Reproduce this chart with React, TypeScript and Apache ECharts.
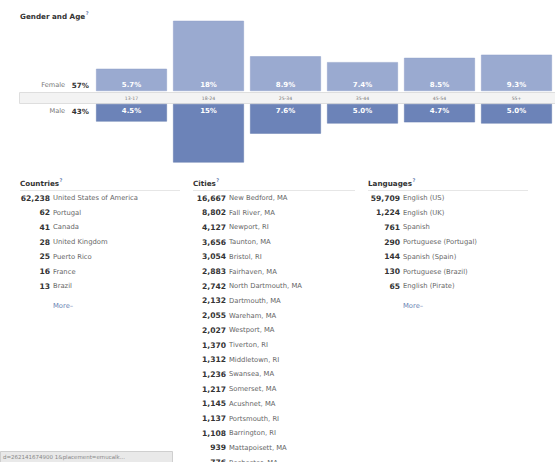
import React, { useEffect, useRef } from "react";
import * as echarts from "echarts";

const ageGroups = ["13-17", "18-24", "25-34", "35-44", "45-54", "55+"];
const femalePct = [5.7, 18, 8.9, 7.4, 8.5, 9.3];
const malePct = [4.5, 15, 7.6, 5.0, 4.7, 5.0];
const femaleTotal = "57%";
const maleTotal = "43%";

const countryNames = ["United States of America", "Portugal", "Canada", "United Kingdom", "Puerto Rico", "France", "Brazil"];
const countryCounts = [62238, 62, 41, 28, 25, 16, 13];

const cityNames = [
  "New Bedford, MA", "Fall River, MA", "Newport, RI", "Taunton, MA", "Bristol, RI", "Fairhaven, MA",
  "North Dartmouth, MA", "Dartmouth, MA", "Wareham, MA", "Westport, MA", "Tiverton, RI", "Middletown, RI",
  "Swansea, MA", "Somerset, MA", "Acushnet, MA", "Portsmouth, RI", "Barrington, RI", "Mattapoisett, MA", "Rochester, MA",
];
const cityCounts = [16667, 8802, 4127, 3656, 3054, 2883, 2742, 2132, 2055, 2027, 1370, 1312, 1236, 1217, 1145, 1137, 1108, 939, 776];

const languageNames = ["English (US)", "English (UK)", "Spanish", "Portuguese (Portugal)", "Spanish (Spain)", "Portuguese (Brazil)", "English (Pirate)"];
const languageCounts = [59709, 1224, 761, 290, 144, 130, 65];

const FONT = "DejaVu Sans";
const FEMALE_COLOR = "#9aaad0";
const MALE_COLOR = "#6c83b8";
const HEAD_FONT = `bold 7.2px "${FONT}"`;

function fmtPct(v: number) {
  return (v >= 10 ? v.toFixed(0) : v.toFixed(1)) + "%";
}

let measureCtx: CanvasRenderingContext2D | null = null;
function measure(text: string, font: string) {
  if (!measureCtx) measureCtx = document.createElement("canvas").getContext("2d");
  if (!measureCtx) return text.length * 4.4;
  measureCtx.font = font;
  return measureCtx.measureText(text).width;
}

function header(title: string, x: number, top: number) {
  return [
    { type: "text", left: x, top, style: { text: title, font: HEAD_FONT, fill: "#333" } },
    {
      type: "text", left: x + measure(title, HEAD_FONT) + 0.5, top: top - 3,
      style: { text: "?", font: `bold 5px "${FONT}"`, fill: "#6d84b4" },
    },
  ];
}

function buildList(title: string, names: string[], counts: number[], x: number, numRight: number, lineEnd: number, more: boolean) {
  const els: any[] = [];
  const rowTop = 198;
  const pitch = 14.7;
  els.push(...header(title, x, 180));
  els.push({
    type: "line", shape: { x1: x, y1: 190.5, x2: lineEnd, y2: 190.5 },
    style: { stroke: "#e6e6e6", lineWidth: 1 },
  });
  names.forEach((n, i) => {
    const y = rowTop + i * pitch;
    els.push({
      type: "text", x: numRight, y,
      style: { text: counts[i].toLocaleString("en-US"), font: `bold 7.6px "${FONT}"`, fill: "#333", align: "right", verticalAlign: "middle" },
    });
    els.push({
      type: "text", x: numRight + 3, y,
      style: { text: n, font: `6.8px "${FONT}"`, fill: "#666", align: "left", verticalAlign: "middle" },
    });
  });
  if (more) {
    els.push({
      type: "text", x: numRight + 3, y: 306,
      style: { text: "More–", font: `6.8px "${FONT}"`, fill: "#6d84b4", align: "left", verticalAlign: "middle" },
    });
  }
  return els;
}

export default function App() {
  const ref = useRef<HTMLDivElement>(null);
  useEffect(() => {
    if (!ref.current) return;
    const chart = echarts.init(ref.current, null, { renderer: "svg" });
    const graphic: any[] = [
      ...header("Gender and Age", 20, 13),
      {
        type: "rect", z: -10, shape: { x: 19.5, y: 92.5, width: 540, height: 11 },
        style: { fill: "#f3f3f3", stroke: "#dedede", lineWidth: 1 },
      },
      {
        type: "text", x: 89, y: 85,
        style: {
          text: `{a|Female}  {b|${femaleTotal}}`, align: "right", verticalAlign: "middle",
          rich: { a: { font: `6.6px "${FONT}"`, fill: "#777" }, b: { font: `bold 7.2px "${FONT}"`, fill: "#333" } },
        },
      },
      {
        type: "text", x: 89, y: 111,
        style: {
          text: `{a|Male}  {b|${maleTotal}}`, align: "right", verticalAlign: "middle",
          rich: { a: { font: `6.6px "${FONT}"`, fill: "#777" }, b: { font: `bold 7.2px "${FONT}"`, fill: "#333" } },
        },
      },
      ...buildList("Countries", countryNames, countryCounts, 20, 50, 180, true),
      ...buildList("Cities", cityNames, cityCounts, 193, 226, 355, false),
      ...buildList("Languages", languageNames, languageCounts, 368, 400, 528, true),
      {
        type: "rect", shape: { x: 0.5, y: 451.5, width: 172, height: 11 },
        style: { fill: "#e9e9e9", stroke: "#cfcfcf", lineWidth: 1 },
      },
      {
        type: "text", x: 3, y: 457,
        style: { text: "d=262141674900 1&placement=emucalk...", font: `5.5px "${FONT}"`, fill: "#888", verticalAlign: "middle" },
      },
    ];

    chart.setOption({
      animation: false,
      backgroundColor: "#ffffff",
      grid: [
        { left: 93, right: 0, top: 13, height: 78 },
        { left: 93, right: 0, top: 104, height: 78 },
      ],
      xAxis: [
        {
          type: "category", gridIndex: 0, data: ageGroups,
          axisLine: { show: false }, axisTick: { show: false },
          axisLabel: { show: true, margin: 7, verticalAlign: "middle", fontSize: 4.6, color: "#777", fontFamily: FONT },
        },
        {
          type: "category", gridIndex: 1, data: ageGroups,
          axisLine: { show: false }, axisTick: { show: false }, axisLabel: { show: false },
        },
      ],
      yAxis: [
        { type: "value", gridIndex: 0, min: 0, max: 20, show: false, splitLine: { show: false } },
        { type: "value", gridIndex: 1, min: 0, max: 20, inverse: true, show: false, splitLine: { show: false } },
      ],
      series: [
        {
          type: "bar", name: "Female", xAxisIndex: 0, yAxisIndex: 0, data: femalePct,
          barCategoryGap: "8%",
          itemStyle: { color: FEMALE_COLOR, borderColor: "#8f9fc8", borderWidth: 0.5 },
          label: {
            show: true, position: "insideBottom", distance: 3,
            formatter: (p: any) => fmtPct(p.value),
            color: "#fff", fontWeight: "bold", fontSize: 7, fontFamily: FONT,
          },
        },
        {
          type: "bar", name: "Male", xAxisIndex: 1, yAxisIndex: 1, data: malePct,
          barCategoryGap: "8%",
          itemStyle: { color: MALE_COLOR, borderColor: "#6178ad", borderWidth: 0.5 },
          label: {
            show: true, position: "insideTop", distance: 3,
            formatter: (p: any) => fmtPct(p.value),
            color: "#fff", fontWeight: "bold", fontSize: 7, fontFamily: FONT,
          },
        },
      ],
      graphic,
    });
    return () => chart.dispose();
  }, []);
  return <div ref={ref} style={{ position: "absolute", left: 0, top: 0, width: 555, height: 462 }} />;
}
